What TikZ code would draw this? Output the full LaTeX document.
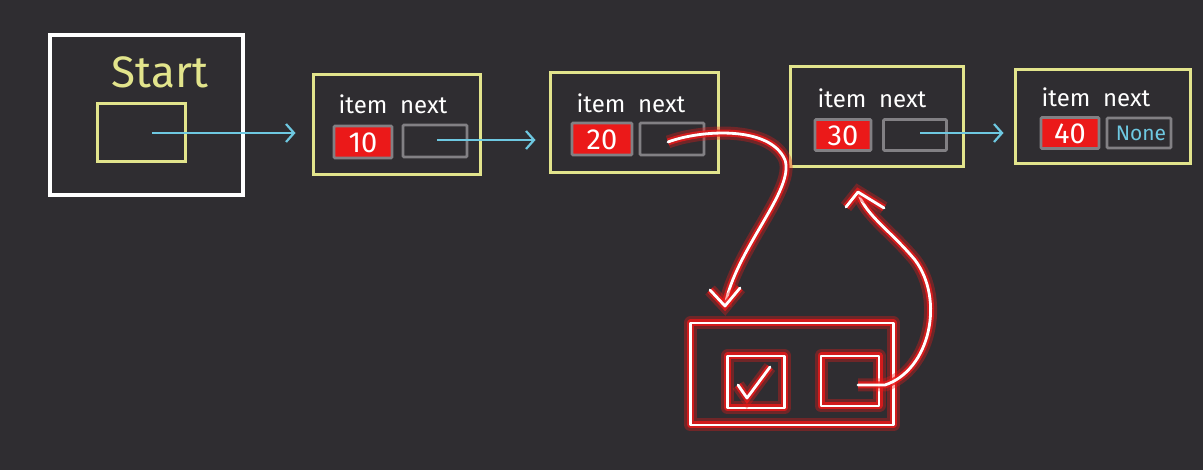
\documentclass[tikz,border=0pt]{standalone}
\usepackage{fontspec}
\setmainfont{Fira Sans}
\usetikzlibrary{arrows.meta}
\definecolor{bg}{RGB}{47,45,49}
\definecolor{ylw}{RGB}{226,228,140}
\definecolor{cyn}{RGB}{110,200,225}
\definecolor{cellg}{RGB}{130,128,132}
\definecolor{hot}{RGB}{235,25,25}
\tikzset{
  ybox/.style={draw=ylw, line width=3pt, rectangle, inner sep=0pt},
  wbox/.style={draw=white, line width=3.6pt, rectangle, inner sep=0pt},
  cell/.style={draw=cellg, line width=2.8pt, rectangle, inner sep=0pt, rounded corners=1pt},
  redcell/.style={cell, fill=hot},
  lbl/.style={text=white, font=\fontsize{24}{26}\selectfont},
  val/.style={text=white, font=\fontsize{29}{30}\selectfont},
  ptr/.style={draw=cyn, line width=2.2pt, -{Straight Barb[length=8pt,width=18pt]}},
  glow/.style={draw=white, line width=2.8pt, line cap=round, line join=round,
     preaction={draw=hot, line width=13pt, opacity=0.35},
     preaction={draw=hot, line width=7pt, opacity=0.8}},
}
\begin{document}
\begin{tikzpicture}[x=1pt,y=-1pt]
\fill[bg] (0,0) rectangle (1203,470);
\useasboundingbox (0,0) rectangle (1203,470);

% Start object
\node[wbox, minimum width=193pt, minimum height=160pt] (startobj) at (146.5,115) {};
\node[text=ylw, font=\fontsize{44}{46}\selectfont] (starttxt) at (160,72) {Start};
\node[ybox, minimum width=88pt, minimum height=58pt] (startcell) at (141,133) {};
\coordinate (startptr) at (152,133);

% Node 1
\node[ybox, minimum width=167pt, minimum height=100pt] (n1) at (396.5,125) {};
\node[lbl] (n1lbl) at (393,104) {item\ \ next};
\node[redcell, minimum width=58pt, minimum height=32pt] (n1item) at (363,142) {};
\node[val] (n1val) at (363,143) {10};
\node[cell, minimum width=64pt, minimum height=32pt] (n1next) at (435,141) {};
\coordinate (n1ptr) at (437,140);

% Node 2
\node[ybox, minimum width=168pt, minimum height=100pt] (n2) at (634,123) {};
\node[lbl] (n2lbl) at (631,103) {item\ \ next};
\node[redcell, minimum width=60pt, minimum height=32pt] (n2item) at (602,139) {};
\node[val] (n2val) at (602,140) {20};
\node[cell, minimum width=64pt, minimum height=32pt] (n2next) at (672,139) {};
\coordinate (n2ptr) at (668,142);

% Node 3
\node[ybox, minimum width=173pt, minimum height=100pt] (n3) at (876.5,117) {};
\node[lbl] (n3lbl) at (872,98) {item\ \ next};
\node[redcell, minimum width=56pt, minimum height=31pt] (n3item) at (843,135) {};
\node[val] (n3val) at (843,136) {30};
\node[cell, minimum width=63pt, minimum height=31pt] (n3next) at (915,135) {};
\coordinate (n3ptr) at (920,133);

% Node 4
\node[ybox, minimum width=175pt, minimum height=94pt] (n4) at (1102.5,117) {};
\node[lbl] (n4lbl) at (1096,97) {item\ \ next};
\node[redcell, minimum width=58pt, minimum height=31pt] (n4item) at (1070,133) {};
\node[val] (n4val) at (1070,134) {40};
\node[cell, minimum width=64pt, minimum height=30pt] (n4next) at (1139,133) {};
\node[text=cyn, font=\fontsize{21}{22}\selectfont] (n4none) at (1141,133) {None};

% cyan pointers
\draw[ptr] (startptr) -- ([xshift=-16pt]startptr -| n1.west);
\draw[ptr] (n1ptr) -- ([xshift=-13pt]n1ptr -| n2.west);
\draw[ptr] (n3ptr) -- ([xshift=-10pt]n3ptr -| n4.west);

% new node (red glow)
\node[glow, rectangle, minimum width=203pt, minimum height=102pt, inner sep=0pt] (newnode) at (792,374) {};
\node[glow, rectangle, minimum width=57pt, minimum height=52pt, inner sep=0pt] (newitem) at (756,382) {};
\node[glow, rectangle, minimum width=58pt, minimum height=50pt, inner sep=0pt] (newnext) at (850,381) {};
\draw[glow] (738,385) -- (747,398) -- (770,367);
\coordinate (newptr) at (858,385);
\coordinate (newtop) at (725,306);

% red pointer: node 2 next -> new node
\draw[glow] (n2ptr) .. controls (700,130) and (770,125) .. (785,160)
   .. controls (795,190) and (735,250) .. (newtop);
\draw[glow] (710,290) -- (newtop) -- (740,288);

% red pointer: new node next -> node 3
\coordinate (n3in) at (858,192);
\draw[glow] (newptr) -- (885,385) .. controls (930,370) and (945,300) .. (915,260)
   .. controls (890,230) and (865,215) .. (n3in);
\draw[glow] (846,207) -- (n3in) -- (884,208);
\end{tikzpicture}
\end{document}
